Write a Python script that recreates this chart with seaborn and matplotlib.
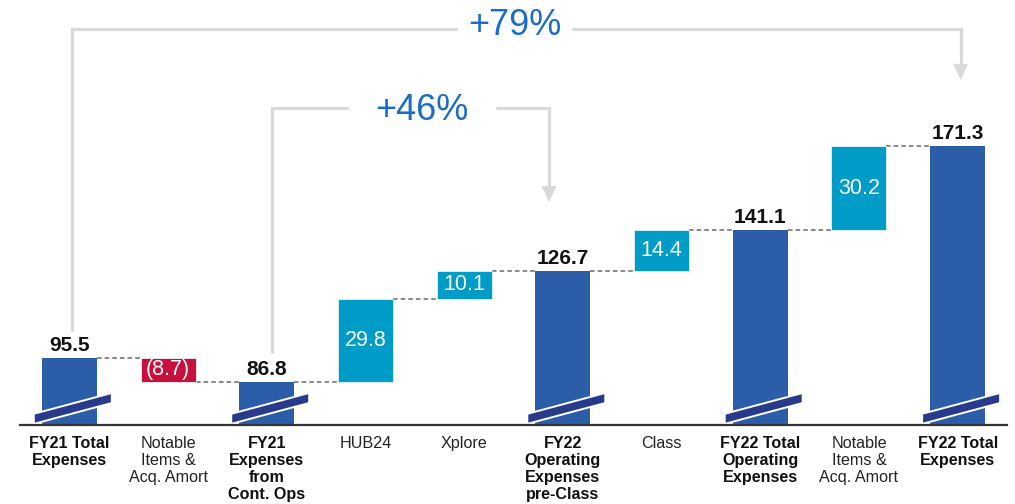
import numpy as np
import pandas as pd
import matplotlib
matplotlib.use("Agg")
import matplotlib.pyplot as plt
import seaborn as sns

# ---- data ----
labels = ["FY21 Total\nExpenses", "Notable\nItems &\nAcq. Amort", "FY21\nExpenses\nfrom\nCont. Ops",
          "HUB24", "Xplore", "FY22\nOperating\nExpenses\npre-Class", "Class",
          "FY22 Total\nOperating\nExpenses", "Notable\nItems &\nAcq. Amort", "FY22 Total\nExpenses"]
kinds = ["total", "delta", "total", "delta", "delta", "total", "delta", "total", "delta", "total"]
values = [95.5, -8.7, 86.8, 29.8, 10.1, 126.7, 14.4, 141.1, 30.2, 171.3]
growth_labels = ["+79%", "+46%"]

C_TOTAL = "#2C5DA9"
C_UP = "#009CC8"
C_DOWN = "#C8103C"
C_SLASH = "#283A8C"
C_BRACKET = "#D9D9D9"
C_PCT = "#1A6DC6"

# waterfall geometry from values
bases, heights, levels = [], [], []
level = 0.0
for k, v in zip(kinds, values):
    if k == "total":
        bases.append(0.0)
        heights.append(v)
        level = v
    else:
        if v >= 0:
            bases.append(level)
            heights.append(v)
        else:
            bases.append(level + v)
            heights.append(-v)
        level = level + v
    levels.append(level)

colors = [C_TOTAL if k == "total" else (C_UP if v >= 0 else C_DOWN) for k, v in zip(kinds, values)]

df = pd.DataFrame({"step": np.arange(len(values)), "top": [b + h for b, h in zip(bases, heights)]})

sns.set_theme(style="white")
plt.rcParams["font.family"] = ["Liberation Sans", "DejaVu Sans"]

fig = plt.figure(figsize=(10.15, 5.04), dpi=100)
ax = fig.add_axes([20 / 1015, 79 / 504, 987 / 1015, 425 / 504])

BW = 0.557
sns.barplot(data=df, x="step", y="top", ax=ax, width=BW, color=C_TOTAL,
            saturation=1, linewidth=0, zorder=2)

# turn the bars into floating waterfall bars
for p, b, h, c, k in zip(ax.patches, bases, heights, colors, kinds):
    p.set_y(b)
    p.set_height(h)
    p.set_facecolor(c)
    if k == "delta":
        p.set_edgecolor("#E6F4FA")
        p.set_linewidth(0.6)

YMIN, YMAX = 71.3, 223.7
ax.set_xlim(-0.5, len(values) - 0.5)
ax.set_ylim(YMIN, YMAX)

# connectors
for i in range(len(values) - 1):
    ax.plot([i + BW / 2, i + 1 - BW / 2], [levels[i], levels[i]], color="#6A6A6A",
            lw=1.1, dashes=(3, 2), zorder=1)

# labels
for i, (k, v) in enumerate(zip(kinds, values)):
    if k == "total":
        ax.text(i, v + 2.5, f"{v:.1f}", ha="center", va="baseline", fontsize=15,
                fontweight="bold", color="#111111", zorder=5)
    else:
        txt = f"{v:.1f}" if v >= 0 else f"({-v:.1f})"
        ax.text(i, bases[i] + heights[i] / 2, txt, ha="center", va="center",
                fontsize=15.5, color="white", zorder=5)

# axis break slashes
for i, k in enumerate(kinds):
    if k == "total":
        xs = [i - 0.36, i - 0.36, i + 0.43, i + 0.43]
        ys = [YMIN + 0.4, YMIN + 4.0, YMIN + 11.5, YMIN + 7.9]
        ax.fill(xs, ys, facecolor=C_SLASH, edgecolor="white", lw=1.4, zorder=4, clip_on=False)

# growth brackets
def bracket(x0, x1, y_top, y_left, y_tip, tx, half_gap, base_off, text):
    head_h = 5.8
    ax.plot([x0, x0, tx - half_gap], [y_left, y_top, y_top], color=C_BRACKET, lw=2.3,
            solid_joinstyle="miter", clip_on=False, zorder=1)
    ax.plot([tx + half_gap, x1, x1], [y_top, y_top, y_tip + head_h], color=C_BRACKET, lw=2.3,
            solid_joinstyle="miter", clip_on=False, zorder=1)
    ax.fill([x1 - 0.076, x1 + 0.076, x1], [y_tip + head_h, y_tip + head_h, y_tip],
            color=C_BRACKET, lw=0, clip_on=False, zorder=1)
    ax.text(tx, y_top - base_off, text, ha="center", va="baseline", fontsize=26,
            color=C_PCT, zorder=5)

bracket(0.03, 9.03, 213.3, values[0] + 10, values[9] + 23.7, 4.51, 0.59, 2.2, growth_labels[0])
bracket(2.05, 4.86, 184.9, values[2] + 10.5, values[5] + 24.5, 3.57, 0.76, 4.3, growth_labels[1])

# axes styling
for s in ["top", "right", "left"]:
    ax.spines[s].set_visible(False)
ax.spines["bottom"].set_color("#333333")
ax.spines["bottom"].set_linewidth(1.6)
ax.spines["bottom"].set_zorder(6)
ax.set_yticks([])
ax.set_xlabel("")
ax.set_ylabel("")
ax.set_xticks(range(len(labels)))
ax.set_xticklabels(labels, fontsize=11.6, linespacing=1.17)
ax.tick_params(axis="x", length=0, pad=8)
for t, k in zip(ax.get_xticklabels(), kinds):
    if k == "total":
        t.set_fontweight("bold")
        t.set_color("#111111")
    else:
        t.set_color("#222222")

fig.savefig("out.png", dpi=100)
